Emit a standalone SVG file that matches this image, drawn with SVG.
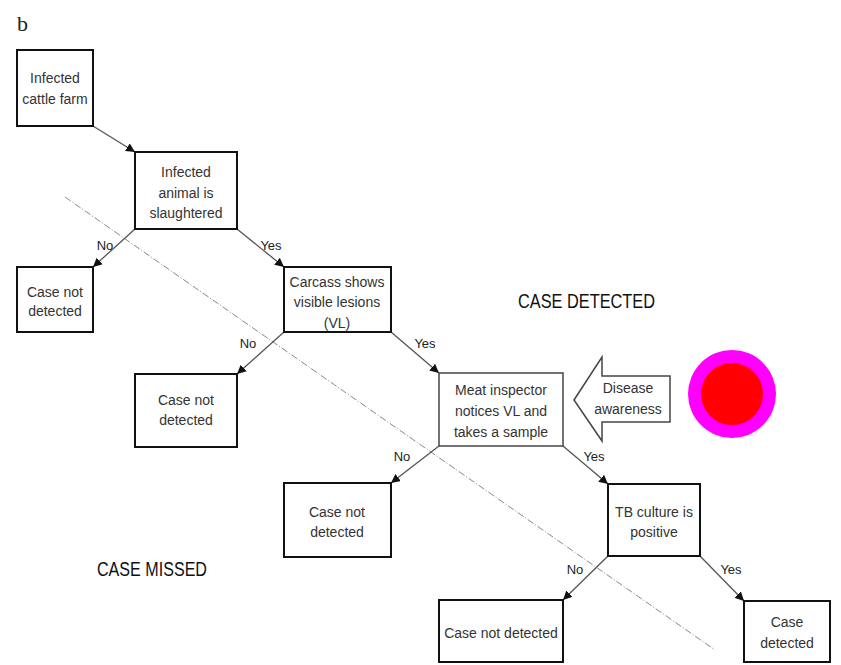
<svg xmlns="http://www.w3.org/2000/svg" width="841" height="665" viewBox="0 0 841 665">
<defs>
<style>
.box{fill:#fff;stroke:#111;stroke-width:2}
.t{font-family:"Liberation Sans",Arial,sans-serif;font-size:14px;fill:#333;text-anchor:middle}
.lab{font-family:"Liberation Sans",Arial,sans-serif;font-size:13px;fill:#222;text-anchor:middle}
.big{font-family:"Liberation Sans",Arial,sans-serif;font-size:20px;fill:#111}
.conn{stroke:#555;stroke-width:1.3;fill:none;marker-end:url(#ah)}
</style>
<marker id="ah" viewBox="0 0 10 10" refX="10" refY="5" markerWidth="9" markerHeight="9" markerUnits="userSpaceOnUse" orient="auto">
<path d="M0,0 L10,5 L0,10 z" fill="#111"/>
</marker>
</defs>
<rect width="841" height="665" fill="#fff"/>
<text x="17" y="31" font-family="Liberation Serif,serif" font-size="22" fill="#222">b</text>
<line x1="65" y1="197" x2="715" y2="650" stroke="#888" stroke-width="1" stroke-dasharray="7 2 1 2"/>
<g id="connectors">
<line class="conn" x1="93" y1="126" x2="135" y2="152"/>
<line class="conn" x1="135" y1="229" x2="93" y2="267"/>
<line class="conn" x1="237" y1="229" x2="284" y2="267"/>
<line class="conn" x1="284" y1="332" x2="237" y2="374"/>
<line class="conn" x1="391" y1="332" x2="439" y2="373"/>
<line class="conn" x1="439" y1="446" x2="391" y2="483"/>
<line class="conn" x1="563" y1="446" x2="608" y2="484"/>
<line class="conn" x1="608" y1="556" x2="563" y2="600"/>
<line class="conn" x1="700" y1="556" x2="744" y2="601"/>
<text class="lab" x="105" y="250">No</text>
<text class="lab" x="271" y="250">Yes</text>
<text class="lab" x="248" y="348">No</text>
<text class="lab" x="425" y="348">Yes</text>
<text class="lab" x="402" y="461">No</text>
<text class="lab" x="594" y="461">Yes</text>
<text class="lab" x="575" y="574">No</text>
<text class="lab" x="731" y="574">Yes</text>
</g>
<g id="n1"><rect class="box" x="17" y="50" width="76" height="76"/><text class="t" x="55" y="83">Infected</text><text class="t" x="55" y="104">cattle farm</text></g>
<g id="n2"><rect class="box" x="135" y="152" width="102" height="77"/><text class="t" x="186" y="177">Infected</text><text class="t" x="186" y="198">animal is</text><text class="t" x="186" y="218">slaughtered</text></g>
<g id="n3"><rect class="box" x="17" y="267" width="76" height="65"/><text class="t" x="55" y="297">Case not</text><text class="t" x="55" y="316">detected</text></g>
<g id="n4"><rect class="box" x="284" y="267" width="107" height="65"/><text class="t" x="337" y="287">Carcass shows</text><text class="t" x="337" y="307">visible lesions</text><text class="t" x="337" y="328">(VL)</text></g>
<g id="n5"><rect class="box" x="135" y="374" width="102" height="73"/><text class="t" x="186" y="405">Case not</text><text class="t" x="186" y="425">detected</text></g>
<g id="n6"><rect class="box" x="439" y="373" width="124" height="73" style="stroke:#444;stroke-width:1.5"/><text class="t" x="501" y="395">Meat inspector</text><text class="t" x="501" y="416">notices VL and</text><text class="t" x="501" y="437">takes a sample</text></g>
<g id="awareness"><path d="M574,400 L602,357 L602,376 L670,376 L670,422 L602,422 L602,441 Z" fill="#fff" stroke="#444" stroke-width="1.5"/><text class="t" x="628" y="393">Disease</text><text class="t" x="628" y="414">awareness</text></g>
<g id="marker-circle"><circle cx="732" cy="394" r="44" fill="#ff00ff"/><circle cx="732" cy="394" r="31" fill="#ff0000"/></g>
<g id="n7"><rect class="box" x="284" y="483" width="107" height="74"/><text class="t" x="337" y="517">Case not</text><text class="t" x="337" y="537">detected</text></g>
<g id="n8"><rect class="box" x="439" y="600" width="124" height="62"/><text class="t" x="501" y="638">Case not detected</text></g>
<g id="n9"><rect class="box" x="608" y="484" width="92" height="72"/><text class="t" x="654" y="517">TB culture is</text><text class="t" x="654" y="537">positive</text></g>
<g id="n10"><rect class="box" x="744" y="601" width="86" height="61"/><text class="t" x="787" y="627">Case</text><text class="t" x="787" y="648">detected</text></g>
<text class="big" x="518" y="308" textLength="137" lengthAdjust="spacingAndGlyphs">CASE DETECTED</text>
<text class="big" x="97" y="576" textLength="110" lengthAdjust="spacingAndGlyphs">CASE MISSED</text>
</svg>
